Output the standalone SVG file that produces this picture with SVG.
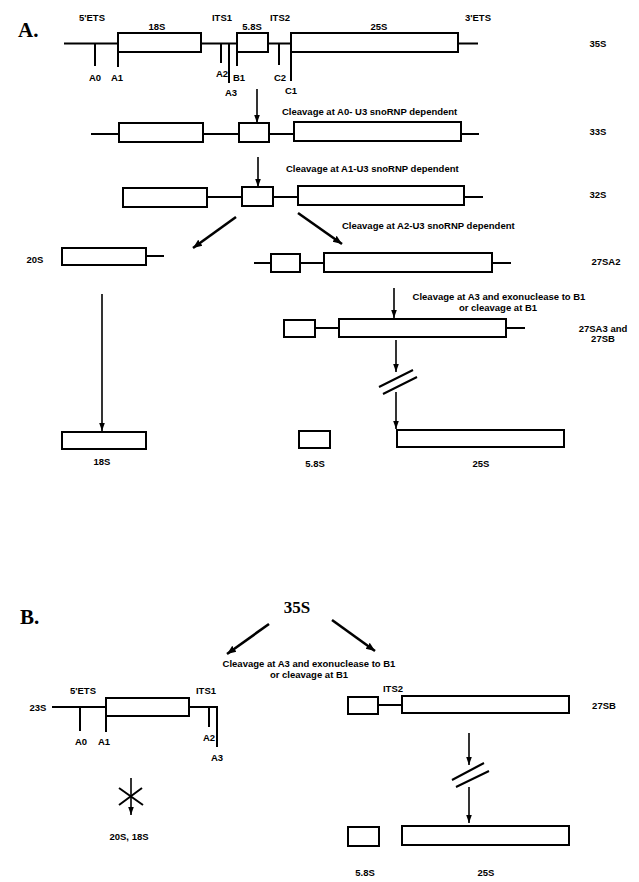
<svg xmlns="http://www.w3.org/2000/svg" width="639" height="882" viewBox="0 0 639 882">
<defs>
<style>
.bx{fill:#fff;stroke:#000;stroke-width:2}
.ln{stroke:#000;stroke-width:2;fill:none}
.ar{stroke:#000;stroke-width:1.6;fill:none;marker-end:url(#ah)}
.ard{stroke:#000;stroke-width:2.6;fill:none;marker-end:url(#ah2)}
.t{font-family:"Liberation Sans",Arial,sans-serif;font-weight:bold;font-size:9.5px;fill:#000}
.m{text-anchor:middle}
.big{font-family:"Liberation Serif","Times New Roman",serif;font-weight:bold;font-size:21px;fill:#000}
</style>
<marker id="ah" viewBox="0 0 10 10" refX="10" refY="5" markerWidth="8" markerHeight="8" markerUnits="userSpaceOnUse" orient="auto"><path d="M0,1.5 L10,5 L0,8.5 z" fill="#000"/></marker>
<marker id="ah2" viewBox="0 0 10 10" refX="10" refY="5" markerWidth="9" markerHeight="9" markerUnits="userSpaceOnUse" orient="auto"><path d="M0,1 L10,5 L0,9 z" fill="#000"/></marker>
</defs>
<rect width="639" height="882" fill="#fff"/>

<text class="big" x="18" y="37">A.</text>
<text class="big" x="20" y="624">B.</text>

<g id="n35S">
<path class="ln" d="M64,43.5H118M201,43.5H237M268,43.5H291M458,43.5H478"/>
<rect class="bx" x="118" y="33" width="83" height="19"/>
<rect class="bx" x="237" y="33" width="31" height="19"/>
<rect class="bx" x="291" y="33" width="167" height="19"/>
<path class="ln" d="M95,43.5V66M118,52V67M221,43.5V63M229,43.5V83M237,52V66M279,43.5V65M291,52V81"/>
<text class="t m" x="92" y="21">5'ETS</text>
<text class="t m" x="157" y="30">18S</text>
<text class="t m" x="222" y="21">ITS1</text>
<text class="t m" x="252" y="30">5.8S</text>
<text class="t m" x="280" y="21">ITS2</text>
<text class="t m" x="379" y="30">25S</text>
<text class="t m" x="478" y="21">3'ETS</text>
<text class="t m" x="598" y="47">35S</text>
<text class="t m" x="95" y="81">A0</text>
<text class="t m" x="117" y="81">A1</text>
<text class="t m" x="222" y="77">A2</text>
<text class="t m" x="239" y="81">B1</text>
<text class="t m" x="231" y="96">A3</text>
<text class="t m" x="280" y="81">C2</text>
<text class="t m" x="291" y="94">C1</text>
</g>

<g id="n33S">
<path class="ln" d="M91,134H119M203,134H239M269,134H294M461,134H479"/>
<rect class="bx" x="119" y="123" width="84" height="19"/>
<rect class="bx" x="239" y="123" width="30" height="19"/>
<rect class="bx" x="294" y="122" width="167" height="19"/>
<text class="t m" x="598" y="135">33S</text>
</g>

<g id="n32S">
<path class="ln" d="M207,197H242M273,197H298M464,197H483"/>
<rect class="bx" x="123" y="188" width="84" height="19"/>
<rect class="bx" x="242" y="187" width="31" height="19"/>
<rect class="bx" x="298" y="186" width="166" height="19"/>
<text class="t m" x="598" y="198">32S</text>
</g>

<g id="n20S">
<path class="ln" d="M146,256H164"/>
<rect class="bx" x="62" y="248" width="84" height="17"/>
<text class="t m" x="35" y="263">20S</text>
</g>

<g id="n27SA2">
<path class="ln" d="M254,263H271M300,263H324M492,263H511"/>
<rect class="bx" x="271" y="254" width="29" height="18"/>
<rect class="bx" x="324" y="253" width="168" height="19"/>
<text class="t m" x="606" y="265">27SA2</text>
</g>

<g id="n27SA3">
<path class="ln" d="M315,328H339M506,328H525"/>
<rect class="bx" x="284" y="320" width="31" height="17"/>
<rect class="bx" x="339" y="319" width="167" height="18"/>
<text class="t m" x="603" y="332">27SA3 and</text>
<text class="t m" x="603" y="342">27SB</text>
</g>

<g id="n18S">
<rect class="bx" x="62" y="432" width="84" height="17"/>
<text class="t m" x="102" y="465">18S</text>
</g>

<g id="n58S">
<rect class="bx" x="299" y="431" width="31" height="17"/>
<text class="t m" x="315" y="467">5.8S</text>
</g>

<g id="n25S">
<rect class="bx" x="397" y="430" width="167" height="17"/>
<text class="t m" x="481" y="467">25S</text>
</g>

<g id="b35S">
<text class="big m" x="297" y="613" style="font-size:17px">35S</text>
</g>

<g id="n23S">
<path class="ln" d="M52,707H106M189,707H217"/>
<rect class="bx" x="106" y="698" width="83" height="18"/>
<path class="ln" d="M80,707V731M106,716V732M209,707V727M217,706V747"/>
<text class="t m" x="38" y="711">23S</text>
<text class="t m" x="83" y="694">5'ETS</text>
<text class="t m" x="206" y="694">ITS1</text>
<text class="t m" x="81" y="745">A0</text>
<text class="t m" x="104" y="745">A1</text>
<text class="t m" x="209" y="741">A2</text>
<text class="t m" x="217" y="761">A3</text>
</g>

<g id="n27SB">
<path class="ln" d="M378,705H402"/>
<rect class="bx" x="348" y="697" width="30" height="17"/>
<rect class="bx" x="402" y="696" width="167" height="17"/>
<text class="t m" x="393" y="692">ITS2</text>
<text class="t m" x="604" y="709">27SB</text>
</g>

<g id="b20S18S">
<path class="ln" d="M119,788L143,805M119,805L142,788"/>
<text class="t m" x="129" y="840">20S, 18S</text>
</g>

<g id="b58S">
<rect class="bx" x="348" y="827" width="31" height="19"/>
<text class="t m" x="365" y="876">5.8S</text>
</g>

<g id="b25S">
<rect class="bx" x="402" y="826" width="167" height="19"/>
<text class="t m" x="486" y="876">25S</text>
</g>

<g id="connectors">
<path class="ar" d="M257,89V123"/>
<path class="ar" d="M258,157V187"/>
<path class="ard" d="M236,217L193,248"/>
<path class="ard" d="M298,213L342,244"/>
<path class="ar" d="M102,294V431"/>
<path class="ar" d="M394,288V318"/>
<path class="ar" d="M396,340V372"/>
<path class="ln" d="M379,387L413,370M383,394L417,377"/>
<path class="ar" d="M396,392V429"/>
<path class="ard" d="M269,624L227,654"/>
<path class="ard" d="M332,620L375,651"/>
<path class="ar" d="M469,733V765"/>
<path class="ln" d="M452,780L484,763M456,787L489,771"/>
<path class="ar" d="M469,787V823"/>
<path class="ar" d="M131,778V815"/>
</g>

<g id="labels">
<text class="t" x="282" y="115">Cleavage at A0- U3 snoRNP dependent</text>
<text class="t" x="286" y="172">Cleavage at A1-U3 snoRNP dependent</text>
<text class="t" x="342" y="229">Cleavage at A2-U3 snoRNP dependent</text>
<text class="t m" x="499" y="300">Cleavage at A3 and exonuclease to B1</text>
<text class="t m" x="498" y="311">or cleavage at B1</text>
<text class="t m" x="309" y="667">Cleavage at A3 and exonuclease to B1</text>
<text class="t m" x="309" y="678">or cleavage at B1</text>
</g>
</svg>
